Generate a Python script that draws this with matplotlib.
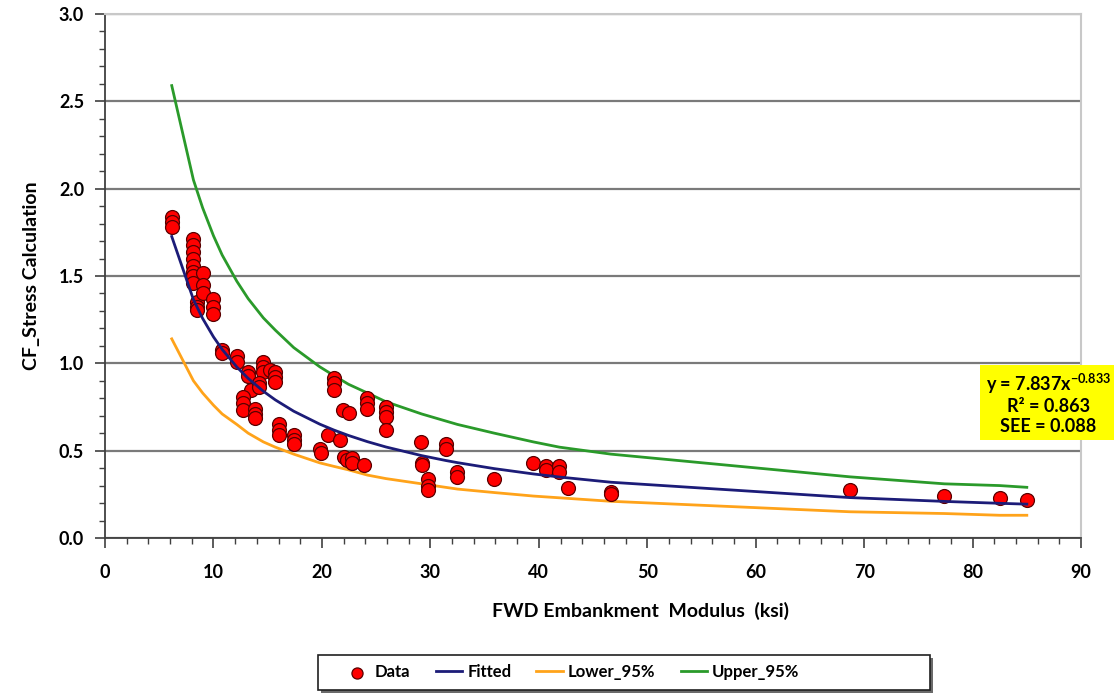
import matplotlib.pyplot as plt
from matplotlib.patches import Rectangle
import numpy as np

plt.rcParams['font.family'] = ['Lato', 'DejaVu Sans']
plt.rcParams['font.weight'] = 'bold'
plt.rcParams['mathtext.fontset'] = 'custom'
plt.rcParams['mathtext.rm'] = 'Lato:bold'
plt.rcParams['mathtext.bf'] = 'Lato:bold'

# measured points: FWD embankment modulus (ksi) vs CF_Stress
data_x = [6.15, 6.15, 6.15,
          8.15, 8.15, 8.15, 8.15, 8.15, 8.15, 8.15, 8.15,
          8.45, 8.45, 8.45,
          9.0, 9.0, 9.0,
          10.0, 10.0, 10.0,
          10.8, 10.8,
          12.15, 12.15,
          13.2, 13.2,
          14.6, 14.6, 14.6,
          15.2,
          15.7, 15.7, 15.7,
          13.5,
          14.2, 14.2,
          12.7, 12.7, 12.7,
          13.8, 13.8, 13.8,
          16.0, 16.0, 16.0,
          17.4, 17.4, 17.4,
          19.8, 19.9,
          20.6,
          21.1, 21.1, 21.1,
          21.7, 21.9, 22.45,
          22.0, 22.3, 22.75, 22.75,
          23.9,
          24.2, 24.2, 24.2,
          25.9, 25.9, 25.9, 25.9,
          29.15, 29.2, 29.2,
          29.8, 29.8, 29.8,
          31.4, 31.4,
          32.5, 32.5,
          35.9,
          39.5,
          40.7, 40.7,
          41.9, 41.9,
          42.65,
          46.65, 46.65,
          68.7, 77.4, 82.5, 85.0]
data_y = [1.84, 1.81, 1.78,
          1.71, 1.68, 1.64, 1.60, 1.56, 1.525, 1.50, 1.46,
          1.35, 1.325, 1.305,
          1.515, 1.45, 1.40,
          1.37, 1.325, 1.28,
          1.075, 1.06,
          1.04, 1.01,
          0.95, 0.93,
          1.01, 0.98, 0.95,
          0.96,
          0.95, 0.92, 0.895,
          0.85,
          0.885, 0.866,
          0.81, 0.77, 0.73,
          0.74, 0.71, 0.685,
          0.65, 0.62, 0.59,
          0.59, 0.56, 0.54,
          0.51, 0.485,
          0.59,
          0.914, 0.886, 0.85,
          0.56, 0.73, 0.715,
          0.465, 0.446, 0.456, 0.428,
          0.418,
          0.80, 0.77, 0.74,
          0.75, 0.72, 0.695, 0.62,
          0.55, 0.43, 0.415,
          0.34, 0.30, 0.275,
          0.54, 0.51,
          0.38, 0.35,
          0.34,
          0.43,
          0.41, 0.39,
          0.41, 0.38,
          0.285,
          0.265, 0.25,
          0.275, 0.24, 0.23, 0.22]

# regression y = a * x^b and its statistics
coef_a = 7.837
coef_b = -0.833
r2 = 0.863
see = 0.088

# x positions where the fitted / band series are drawn
curve_x = [6.15, 8.15, 9.0, 10.0, 10.8, 12.15, 13.2, 14.6, 15.7, 17.4, 19.8,
           21.1, 22.45, 24.2, 25.9, 29.2, 31.4, 32.5, 35.9, 39.5, 41.9,
           46.65, 68.7, 77.4, 82.5, 85.0]
upper_95 = [2.59, 2.05, 1.89, 1.73, 1.62, 1.47, 1.37, 1.26, 1.19, 1.09, 0.98,
            0.93, 0.88, 0.83, 0.78, 0.71, 0.67, 0.65, 0.60, 0.55, 0.52,
            0.48, 0.35, 0.31, 0.30, 0.29]
lower_95 = [1.14, 0.90, 0.83, 0.76, 0.71, 0.65, 0.60, 0.55, 0.52, 0.48, 0.43,
            0.41, 0.39, 0.36, 0.34, 0.31, 0.29, 0.28, 0.26, 0.24, 0.23,
            0.21, 0.15, 0.14, 0.13, 0.13]

cx = np.array(curve_x)
fitted = coef_a * cx ** coef_b

fig = plt.figure(figsize=(11.14, 6.93), dpi=100)
ax = fig.add_axes([0.0943, 0.2237, 0.8761, 0.7561])

ax.set_xlim(0, 90)
ax.set_ylim(0, 3.0)
ax.set_xticks(np.arange(0, 91, 10))
ax.set_xticks(np.arange(0, 91, 2), minor=True)
ax.set_yticks(np.arange(0, 3.01, 0.5))
ax.set_yticks(np.arange(0, 3.01, 0.1), minor=True)
ax.yaxis.set_major_formatter(plt.FormatStrFormatter('%.1f'))
ax.tick_params(axis='both', which='major', length=7, width=1.2, color='#404040',
               labelsize=13)
ax.tick_params(axis='both', which='minor', length=4, width=1.0, color='#404040')
for lab in ax.get_xticklabels() + ax.get_yticklabels():
    lab.set_fontweight('bold')
ax.tick_params(axis='x', pad=12)
ax.tick_params(axis='y', pad=8)

ax.grid(axis='y', which='major', color='#7a7a7a', lw=1.6)
ax.set_axisbelow(True)
for side in ['top', 'right']:
    ax.spines[side].set_color('#c8c8c8')
    ax.spines[side].set_linewidth(1.5)
for side in ['left', 'bottom']:
    ax.spines[side].set_color('#404040')
    ax.spines[side].set_linewidth(1.3)

ax.scatter(data_x, data_y, s=100, color='#ff0000', edgecolor='#5a0000',
           linewidth=0.9, zorder=3, label='Data')
ax.plot(cx, fitted, color='#1c1c78', lw=2, zorder=4, label='Fitted')
ax.plot(cx, lower_95, color='#ffa31a', lw=2, zorder=2, label='Lower_95%')
ax.plot(cx, upper_95, color='#2a9a2a', lw=2, zorder=2, label='Upper_95%')

ax.set_ylabel('CF_Stress Calculation', fontsize=14, fontweight='bold', labelpad=14)
fig.text(0.575, 0.118, 'FWD Embankment  Modulus  (ksi)', fontsize=14,
         fontweight='bold', ha='center', va='center')

eq_text = (f'y = {coef_a}x$^{{\\mathbf{{{coef_b}}}}}$\n'
           f'R² = {r2}\nSEE = {see:.3f}')
fig.text(0.941, 0.418, eq_text, fontsize=13, fontweight='bold', ha='center',
         va='center', linespacing=1.15,
         bbox=dict(boxstyle='square,pad=0.3', facecolor='#ffff00', edgecolor='none'))

# legend frame with a drop shadow, drawn in figure pixels
fw, fh = 1114, 693
fig.patches.append(Rectangle((321 / fw, 1 - 693 / fh), 612 / fw, 35 / fh,
                             transform=fig.transFigure, facecolor='#6a6a6a',
                             edgecolor='none', zorder=1))
fig.patches.append(Rectangle((318 / fw, 1 - 690 / fh), 612 / fw, 35 / fh,
                             transform=fig.transFigure, facecolor='white',
                             edgecolor='#202020', lw=1.2, zorder=2))

handles, labels = ax.get_legend_handles_labels()
leg = fig.legend(handles, labels, loc='center', bbox_to_anchor=(0.513, 0.030),
                 ncol=4, frameon=False, fontsize=12, handlelength=1.6,
                 handletextpad=0.3, columnspacing=1.5, markerscale=0.8)
leg.set_zorder(3)
for t in leg.get_texts():
    t.set_fontweight('bold')

fig.savefig('out.png', dpi=100)
